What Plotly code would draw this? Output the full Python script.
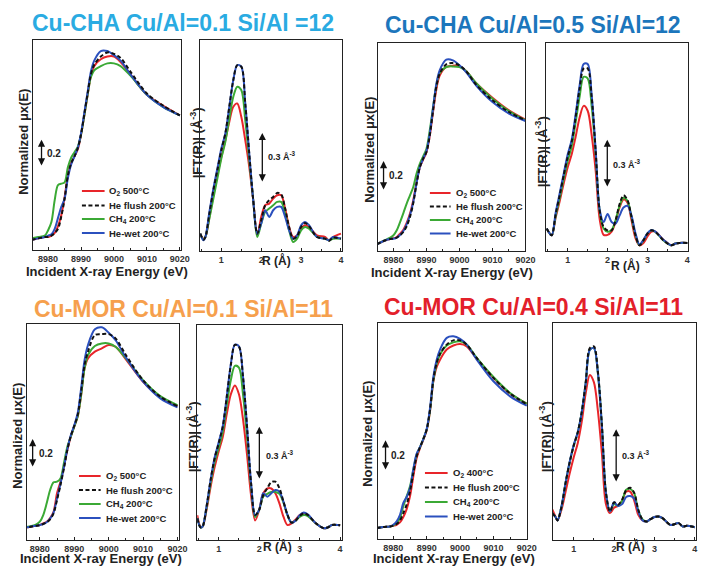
import plotly.graph_objects as go

W, H = 707, 567          # browser window
OFF = 8                  # page body margin
FW, FH = W - OFF, H - OFF
FONT = "Arial, Liberation Sans, sans-serif"

# ---------------- data ----------------
E = [8975, 8977, 8979, 8980, 8981, 8982, 8983, 8984, 8985, 8986, 8987, 8988, 8989,
     8990, 8991, 8992, 8993, 8994, 8996, 8998, 9000, 9002, 9005, 9010, 9015, 9020]
R = [0.47, 0.55, 0.6, 0.7, 0.8, 0.9, 1.0, 1.1, 1.2, 1.3, 1.4, 1.5, 1.6, 1.7, 1.8, 1.9,
     2.0, 2.1, 2.2, 2.3, 2.4, 2.5, 2.6, 2.7, 2.8, 2.9, 3.0, 3.1, 3.2, 3.4, 3.6, 3.7, 3.8, 4.0]

# Cu-CHA Cu/Al=0.1 Si/Al=12 : XANES
cha01_xanes_o2 = [-0.01, 0.00, 0.01, 0.01, 0.02, 0.04, 0.09, 0.17, 0.30, 0.46, 0.55, 0.60, 0.65, 0.76, 0.90, 1.05, 1.19, 1.26, 1.31, 1.33, 1.33, 1.29, 1.20, 1.05, 0.97, 0.90]
cha01_xanes_flush = [-0.01, 0.00, 0.01, 0.01, 0.02, 0.04, 0.07, 0.16, 0.29, 0.46, 0.55, 0.60, 0.66, 0.76, 0.91, 1.06, 1.20, 1.27, 1.33, 1.36, 1.35, 1.32, 1.22, 1.06, 0.97, 0.90]
cha01_xanes_ch4 = [0.00, 0.01, 0.02, 0.06, 0.12, 0.28, 0.39, 0.40, 0.41, 0.52, 0.59, 0.63, 0.67, 0.76, 0.90, 1.05, 1.18, 1.23, 1.26, 1.28, 1.28, 1.26, 1.19, 1.05, 0.96, 0.90]
cha01_xanes_wet = [-0.01, 0.00, 0.01, 0.02, 0.03, 0.07, 0.15, 0.23, 0.29, 0.44, 0.54, 0.60, 0.66, 0.77, 0.92, 1.07, 1.22, 1.30, 1.37, 1.37, 1.34, 1.30, 1.20, 1.05, 0.96, 0.90]
# Cu-CHA Cu/Al=0.1 : EXAFS
cha01_ft_o2 = [0.10, 0.07, 0.08, 0.20, 0.33, 0.45, 0.56, 0.66, 0.77, 0.86, 0.88, 0.80, 0.66, 0.50, 0.30, 0.09, 0.20, 0.27, 0.28, 0.31, 0.33, 0.33, 0.25, 0.14, 0.08, 0.09, 0.13, 0.15, 0.14, 0.09, 0.08, 0.06, 0.08, 0.10]
cha01_ft_flush = [0.10, 0.064, 0.08, 0.22, 0.36, 0.48, 0.60, 0.70, 0.86, 1.02, 1.11, 1.10, 0.88, 0.58, 0.30, 0.10, 0.18, 0.27, 0.30, 0.32, 0.344, 0.336, 0.25, 0.14, 0.07, 0.084, 0.14, 0.164, 0.144, 0.08, 0.07, 0.056, 0.076, 0.07]
cha01_ft_ch4 = [0.10, 0.064, 0.08, 0.19, 0.31, 0.43, 0.55, 0.65, 0.79, 0.92, 0.98, 0.96, 0.78, 0.54, 0.30, 0.08, 0.16, 0.23, 0.25, 0.27, 0.29, 0.29, 0.22, 0.12, 0.05, 0.07, 0.12, 0.14, 0.13, 0.08, 0.07, 0.06, 0.07, 0.07]
cha01_ft_wet = [0.10, 0.06, 0.08, 0.23, 0.37, 0.49, 0.61, 0.70, 0.86, 1.02, 1.11, 1.10, 0.88, 0.58, 0.30, 0.10, 0.16, 0.24, 0.20, 0.24, 0.26, 0.26, 0.20, 0.12, 0.07, 0.09, 0.15, 0.17, 0.15, 0.08, 0.07, 0.06, 0.08, 0.07]

# Cu-CHA Cu/Al=0.5 Si/Al=12 : XANES
cha05_xanes_o2 = [-0.004, 0.018, 0.031, 0.036, 0.044, 0.067, 0.093, 0.138, 0.20, 0.29, 0.41, 0.51, 0.56, 0.61, 0.72, 0.88, 1.03, 1.12, 1.178, 1.187, 1.182, 1.151, 1.071, 0.973, 0.889, 0.827]
cha05_xanes_flush = [-0.004, 0.018, 0.031, 0.033, 0.04, 0.056, 0.078, 0.116, 0.178, 0.271, 0.40, 0.511, 0.567, 0.611, 0.722, 0.889, 1.049, 1.133, 1.196, 1.204, 1.189, 1.151, 1.062, 0.956, 0.878, 0.822]
cha05_xanes_ch4 = [-0.004, 0.018, 0.04, 0.056, 0.089, 0.144, 0.204, 0.267, 0.322, 0.378, 0.467, 0.533, 0.582, 0.633, 0.756, 0.911, 1.056, 1.138, 1.178, 1.182, 1.178, 1.151, 1.071, 0.967, 0.884, 0.822]
cha05_xanes_wet = [-0.004, 0.018, 0.031, 0.033, 0.04, 0.058, 0.084, 0.129, 0.189, 0.278, 0.404, 0.511, 0.567, 0.618, 0.733, 0.907, 1.067, 1.156, 1.227, 1.222, 1.189, 1.144, 1.056, 0.944, 0.867, 0.818]
# Cu-CHA Cu/Al=0.5 : EXAFS
cha05_ft_o2 = [0.139, 0.108, 0.097, 0.21, 0.31, 0.42, 0.52, 0.60, 0.71, 0.83, 0.90, 0.87, 0.72, 0.50, 0.20, 0.10, 0.10, 0.12, 0.18, 0.27, 0.32, 0.30, 0.19, 0.08, 0.035, 0.05, 0.09, 0.12, 0.12, 0.07, 0.035, 0.046, 0.05, 0.05]
cha05_ft_flush = [0.139, 0.108, 0.097, 0.232, 0.346, 0.470, 0.584, 0.677, 0.832, 1.008, 1.132, 1.132, 0.957, 0.625, 0.253, 0.149, 0.128, 0.128, 0.190, 0.290, 0.346, 0.315, 0.211, 0.097, 0.035, 0.066, 0.108, 0.128, 0.118, 0.066, 0.035, 0.046, 0.050, 0.050]
cha05_ft_ch4 = [0.139, 0.108, 0.097, 0.22, 0.33, 0.45, 0.56, 0.65, 0.80, 0.96, 1.08, 1.07, 0.90, 0.60, 0.25, 0.14, 0.12, 0.13, 0.19, 0.28, 0.33, 0.31, 0.21, 0.10, 0.035, 0.066, 0.108, 0.128, 0.118, 0.066, 0.035, 0.046, 0.05, 0.05]
cha05_ft_wet = [0.139, 0.108, 0.097, 0.24, 0.36, 0.48, 0.60, 0.69, 0.85, 1.03, 1.16, 1.16, 0.97, 0.63, 0.26, 0.18, 0.23, 0.18, 0.17, 0.22, 0.27, 0.28, 0.22, 0.11, 0.04, 0.07, 0.11, 0.13, 0.12, 0.07, 0.035, 0.046, 0.05, 0.05]

# Cu-MOR Cu/Al=0.1 Si/Al=11 : XANES
mor01_xanes_o2 = [-0.005, -0.002, 0.007, 0.011, 0.023, 0.034, 0.06, 0.103, 0.23, 0.31, 0.414, 0.529, 0.621, 0.69, 0.759, 0.908, 1.092, 1.161, 1.207, 1.23, 1.253, 1.241, 1.154, 1.0, 0.892, 0.832]
mor01_xanes_flush = [-0.005, -0.002, 0.007, 0.011, 0.018, 0.03, 0.051, 0.092, 0.184, 0.287, 0.402, 0.529, 0.625, 0.694, 0.770, 0.931, 1.115, 1.207, 1.322, 1.328, 1.328, 1.299, 1.184, 1.011, 0.897, 0.832]
mor01_xanes_ch4 = [-0.005, 0.002, 0.016, 0.034, 0.08, 0.161, 0.253, 0.306, 0.31, 0.333, 0.437, 0.552, 0.621, 0.69, 0.759, 0.908, 1.092, 1.184, 1.246, 1.264, 1.264, 1.241, 1.161, 1.011, 0.901, 0.839]
mor01_xanes_wet = [-0.005, -0.002, 0.007, 0.011, 0.018, 0.03, 0.055, 0.097, 0.195, 0.294, 0.409, 0.533, 0.630, 0.699, 0.782, 0.954, 1.149, 1.253, 1.361, 1.375, 1.338, 1.287, 1.168, 1.0, 0.885, 0.823]
# Cu-MOR Cu/Al=0.1 : EXAFS
mor01_ft_o2 = [0.14, 0.075, 0.075, 0.17, 0.30, 0.41, 0.50, 0.58, 0.71, 0.82, 0.87, 0.82, 0.68, 0.48, 0.25, 0.11, 0.17, 0.263, 0.29, 0.29, 0.263, 0.206, 0.131, 0.084, 0.094, 0.116, 0.14, 0.15, 0.14, 0.094, 0.066, 0.071, 0.084, 0.083]
mor01_ft_flush = [0.122, 0.071, 0.075, 0.188, 0.338, 0.46, 0.544, 0.638, 0.807, 0.985, 1.098, 1.088, 0.919, 0.638, 0.319, 0.141, 0.169, 0.253, 0.291, 0.326, 0.328, 0.291, 0.216, 0.141, 0.098, 0.109, 0.135, 0.15, 0.141, 0.094, 0.066, 0.071, 0.084, 0.083]
mor01_ft_ch4 = [0.122, 0.071, 0.075, 0.18, 0.32, 0.44, 0.52, 0.61, 0.76, 0.90, 0.98, 0.97, 0.82, 0.58, 0.30, 0.13, 0.17, 0.245, 0.26, 0.27, 0.27, 0.26, 0.21, 0.14, 0.098, 0.109, 0.13, 0.14, 0.135, 0.094, 0.066, 0.071, 0.084, 0.083]
mor01_ft_wet = [0.122, 0.071, 0.075, 0.19, 0.34, 0.465, 0.55, 0.64, 0.81, 0.99, 1.10, 1.09, 0.92, 0.64, 0.32, 0.14, 0.17, 0.263, 0.244, 0.263, 0.281, 0.272, 0.216, 0.141, 0.098, 0.109, 0.14, 0.155, 0.145, 0.094, 0.066, 0.071, 0.084, 0.083]

# Cu-MOR Cu/Al=0.4 Si/Al=11 : XANES
mor04_xanes_o2 = [-0.007, 0.0, 0.004, 0.009, 0.015, 0.03, 0.065, 0.117, 0.2, 0.33, 0.45, 0.515, 0.57, 0.63, 0.755, 0.95, 1.043, 1.091, 1.157, 1.183, 1.193, 1.178, 1.096, 0.972, 0.87, 0.804]
mor04_xanes_flush = [-0.007, 0.0, 0.004, 0.009, 0.02, 0.043, 0.091, 0.146, 0.233, 0.352, 0.461, 0.52, 0.574, 0.635, 0.765, 0.961, 1.07, 1.13, 1.189, 1.217, 1.217, 1.189, 1.102, 0.972, 0.87, 0.8]
mor04_xanes_ch4 = [-0.007, 0.0, 0.004, 0.011, 0.026, 0.059, 0.135, 0.2, 0.265, 0.374, 0.472, 0.52, 0.574, 0.635, 0.761, 0.957, 1.065, 1.124, 1.183, 1.204, 1.211, 1.189, 1.102, 0.978, 0.874, 0.804]
mor04_xanes_wet = [-0.007, 0.0, 0.004, 0.015, 0.037, 0.08, 0.157, 0.196, 0.254, 0.378, 0.478, 0.522, 0.574, 0.639, 0.776, 0.978, 1.091, 1.157, 1.233, 1.243, 1.226, 1.189, 1.091, 0.95, 0.852, 0.791]
# Cu-MOR Cu/Al=0.4 : EXAFS
mor04_ft_o2 = [0.17, 0.13, 0.109, 0.17, 0.27, 0.37, 0.46, 0.54, 0.66, 0.82, 0.92, 0.88, 0.72, 0.48, 0.20, 0.15, 0.18, 0.19, 0.22, 0.27, 0.27, 0.22, 0.14, 0.11, 0.103, 0.116, 0.128, 0.131, 0.122, 0.084, 0.094, 0.075, 0.079, 0.071]
mor04_ft_flush = [0.15, 0.128, 0.109, 0.188, 0.319, 0.432, 0.525, 0.6, 0.713, 0.882, 1.07, 1.08, 0.938, 0.638, 0.263, 0.159, 0.21, 0.197, 0.225, 0.278, 0.291, 0.263, 0.169, 0.116, 0.103, 0.116, 0.128, 0.131, 0.122, 0.084, 0.094, 0.075, 0.079, 0.071]
mor04_ft_ch4 = [0.15, 0.128, 0.109, 0.188, 0.319, 0.432, 0.525, 0.6, 0.713, 0.88, 1.06, 1.07, 0.93, 0.63, 0.26, 0.16, 0.20, 0.19, 0.22, 0.28, 0.285, 0.26, 0.165, 0.116, 0.103, 0.116, 0.128, 0.131, 0.122, 0.084, 0.094, 0.075, 0.079, 0.071]
mor04_ft_wet = [0.15, 0.128, 0.109, 0.19, 0.32, 0.435, 0.53, 0.6, 0.713, 0.88, 1.06, 1.07, 0.93, 0.63, 0.26, 0.16, 0.21, 0.19, 0.20, 0.24, 0.245, 0.23, 0.16, 0.11, 0.103, 0.116, 0.128, 0.131, 0.122, 0.084, 0.094, 0.075, 0.079, 0.071]

titles = ["Cu-CHA Cu/Al=0.1 Si/Al =12", "Cu-CHA Cu/Al=0.5 Si/Al=12",
          "Cu-MOR Cu/Al=0.1 Si/Al=11", "Cu-MOR Cu/Al=0.4 Si/Al=11"]
title_colors = ["#2AABE2", "#1C76BC", "#F6A04D", "#E3202A"]
labels_500 = ["O<sub>2</sub> 500°C", "He flush 200°C", "CH<sub>4</sub> 200°C", "He-wet 200°C"]
labels_400 = ["O<sub>2</sub> 400°C", "He flush 200°C", "CH<sub>4</sub> 200°C", "He-wet 200°C"]
xanes_scale = 0.2
ft_scale = 0.3

# ---------------- styling ----------------
C_O2, C_FL, C_CH4, C_WET = "#E8252A", "#111111", "#3BA935", "#2B50BE"
series_style = [(C_O2, "solid"), (C_FL, "4px,2.5px"), (C_CH4, "solid"), (C_WET, "solid")]
draw_order = [0, 2, 3, 1]

# panel boxes in window pixels: (left, top, right, bottom)
panels = [
    dict(box=(33, 40, 184, 250), xr=[8975.3, 9020.5], yr=[-0.085, 1.451], kind="xanes",
         ys=[cha01_xanes_o2, cha01_xanes_flush, cha01_xanes_ch4, cha01_xanes_wet]),
    dict(box=(203, 40, 347, 251), xr=[0.47, 4.03], yr=[-0.004, 1.26], kind="ft",
         ys=[cha01_ft_o2, cha01_ft_flush, cha01_ft_ch4, cha01_ft_wet]),
    dict(box=(383, 43, 533, 251), xr=[8975.2, 9020.0], yr=[-0.049, 1.338], kind="xanes",
         ys=[cha05_xanes_o2, cha05_xanes_flush, cha05_xanes_ch4, cha05_xanes_wet]),
    dict(box=(554, 43, 698, 251), xr=[0.46, 4.02], yr=[0.0, 1.29], kind="ft",
         ys=[cha05_ft_o2, cha05_ft_flush, cha05_ft_ch4, cha05_ft_wet]),
    dict(box=(27, 324, 181, 540), xr=[8976.2, 9020.3], yr=[-0.092, 1.398], kind="xanes",
         ys=[mor01_xanes_o2, mor01_xanes_flush, mor01_xanes_ch4, mor01_xanes_wet]),
    dict(box=(200, 325, 347, 540), xr=[0.47, 4.05], yr=[0.0, 1.21], kind="ft",
         ys=[mor01_ft_o2, mor01_ft_flush, mor01_ft_ch4, mor01_ft_wet]),
    dict(box=(383, 323, 535, 539), xr=[8975.3, 9020.2], yr=[-0.078, 1.33], kind="xanes",
         ys=[mor04_xanes_o2, mor04_xanes_flush, mor04_xanes_ch4, mor04_xanes_wet]),
    dict(box=(561, 323, 706, 540), xr=[0.49, 4.03], yr=[0.0, 1.21], kind="ft",
         ys=[mor04_ft_o2, mor04_ft_flush, mor04_ft_ch4, mor04_ft_wet]),
]

# scale-bar anchor (px x, px bottom) and label position
scalebars = [(42, 167), (266, 183), (389, 191), (616, 188), (33, 468), (263, 480), (391, 471), (625, 483)]
scale_labels = [(46, 153), (270, 156), (393, 176), (620, 164), (37, 453), (268, 455), (395, 455), (629, 455)]

# legends: (sample x0, sample x1, text x, row ys)
legends = [
    (83, 106, 108, [191, 205.5, 219, 233]),
    (436, 457, 460, [193, 206.5, 220, 233.5]),
    (80, 102, 105, [476, 490, 504, 518]),
    (431, 454, 457, [473, 487.5, 502, 516.5]),
]

title_pos = [(186, 23), (541, 25), (186, 309), (541, 307)]
xlab_pos = [(108, 271), (458, 272), (102, 558), (460, 558)]
ylab_pos = [(23, 142), (374, 150), (17, 436), (372, 434)]
ftlab_pos = [(199, 143), (549, 152), (195, 437), (553, 437)]
rlab_pos = [(280, 261), (634, 265), (281, 546), (640, 546)]


def paper(px, py):
    return (px - OFF) / FW, 1 - (py - OFF) / FH


def to_data(p, px, py):
    l, t, r, b = p["box"]
    x = p["xr"][0] + (px - l) / (r - l) * (p["xr"][1] - p["xr"][0])
    y = p["yr"][0] + (b - py) / (b - t) * (p["yr"][1] - p["yr"][0])
    return x, y


fig = go.Figure()
layout = dict(width=FW, height=FH, margin=dict(l=0, r=0, t=0, b=0),
              paper_bgcolor="white", plot_bgcolor="white", showlegend=False,
              font=dict(family=FONT, color="#222"))
annotations = []
shapes = []

for i, p in enumerate(panels):
    n = i + 1
    xa = "x" if n == 1 else f"x{n}"
    ya = "y" if n == 1 else f"y{n}"
    l, t, r, b = p["box"]
    xs = E if p["kind"] == "xanes" else R
    for k in draw_order:
        col, dash = series_style[k]
        fig.add_trace(go.Scatter(x=xs, y=p["ys"][k], mode="lines", xaxis=xa, yaxis=ya,
                                 line=dict(color=col, width=2, dash=dash, shape="spline", smoothing=0.9),
                                 hoverinfo="skip"))
    if p["kind"] == "xanes":
        tick = dict(tick0=8980, dtick=10, minor=dict(ticks="inside", dtick=5, tick0=8975, ticklen=2, tickcolor="#222"))
    else:
        tick = dict(tick0=0, dtick=1, minor=dict(ticks="inside", dtick=0.5, tick0=0, ticklen=2, tickcolor="#222"))
    x0p, y1p = paper(l, t)
    x1p, y0p = paper(r, b)
    layout["xaxis" if n == 1 else f"xaxis{n}"] = dict(
        domain=[x0p, min(x1p, 1.0)], range=p["xr"], anchor=ya, showline=True, mirror=True,
        linecolor="#222", linewidth=1.4, ticks="inside", ticklen=3, tickcolor="#222",
        showgrid=False, zeroline=False,
        tickfont=dict(size=9, family=FONT, color="#333", weight="bold"), **tick)
    layout["yaxis" if n == 1 else f"yaxis{n}"] = dict(
        domain=[y0p, y1p], range=p["yr"], anchor=xa, showline=True, mirror=True,
        linecolor="#222", linewidth=1.4, ticks="", showticklabels=False,
        showgrid=False, zeroline=False)

    # scale bar
    length = xanes_scale if p["kind"] == "xanes" else ft_scale
    bx, by = to_data(p, *scalebars[i])
    annotations.append(dict(x=bx, y=by + length, ax=bx, ay=by, xref=xa, yref=ya, axref=xa, ayref=ya,
                            showarrow=True, arrowhead=2, arrowside="end+start", arrowsize=1.1,
                            arrowwidth=1.3, arrowcolor="#111", text=""))
    lx, ly = paper(*scale_labels[i])
    txt = "0.2" if p["kind"] == "xanes" else "0.3 Å<sup>-3</sup>"
    annotations.append(dict(x=lx, y=ly, xref="paper", yref="paper", xanchor="left", yanchor="middle",
                            showarrow=False, text=f"<b>{txt}</b>",
                            font=dict(size=10 if p["kind"] == "xanes" else 9, family=FONT, color="#222")))

for j in range(4):
    tx, ty = paper(*title_pos[j])
    annotations.append(dict(x=tx, y=ty, xref="paper", yref="paper", xanchor="center", yanchor="middle",
                            showarrow=False, text=f"<b>{titles[j]}</b>",
                            font=dict(size=23, family=FONT, color=title_colors[j])))
    x0, y0 = paper(*xlab_pos[j])
    annotations.append(dict(x=x0, y=y0, xref="paper", yref="paper", xanchor="center", yanchor="middle",
                            showarrow=False, text="<b>Incident X-ray Energy (eV)</b>",
                            font=dict(size=13, family=FONT, color="#222")))
    x0, y0 = paper(*ylab_pos[j])
    annotations.append(dict(x=x0, y=y0, xref="paper", yref="paper", xanchor="center", yanchor="middle",
                            showarrow=False, textangle=-90, text="<b>Normalized μx(E)</b>",
                            font=dict(size=13, family=FONT, color="#222")))
    x0, y0 = paper(*ftlab_pos[j])
    annotations.append(dict(x=x0, y=y0, xref="paper", yref="paper", xanchor="center", yanchor="middle",
                            showarrow=False, textangle=-90, text="<b>|FT(R)| (Å<sup>-3</sup>)</b>",
                            font=dict(size=13, family=FONT, color="#222")))
    x0, y0 = paper(*rlab_pos[j])
    annotations.append(dict(x=x0, y=y0, xref="paper", yref="paper", xanchor="center", yanchor="middle",
                            showarrow=False, text="<b>R (Å)</b>",
                            font=dict(size=12, family=FONT, color="#222")))
    sx0, sx1, tx0, rows = legends[j]
    labs = labels_400 if j == 3 else labels_500
    for k in range(4):
        col, dash = series_style[k]
        px0, yy = paper(sx0, rows[k])
        px1, _ = paper(sx1, rows[k])
        ptx, _ = paper(tx0, rows[k])
        shapes.append(dict(type="line", xref="paper", yref="paper", x0=px0, x1=px1, y0=yy, y1=yy,
                           line=dict(color=col, width=2, dash=dash)))
        annotations.append(dict(x=ptx, y=yy, xref="paper", yref="paper", xanchor="left", yanchor="middle",
                                showarrow=False, text=f"<b>{labs[k]}</b>",
                                font=dict(size=9.5, family=FONT, color="#222")))

layout["annotations"] = annotations
layout["shapes"] = shapes
fig.update_layout(**layout)
fig.write_html("out.html")
